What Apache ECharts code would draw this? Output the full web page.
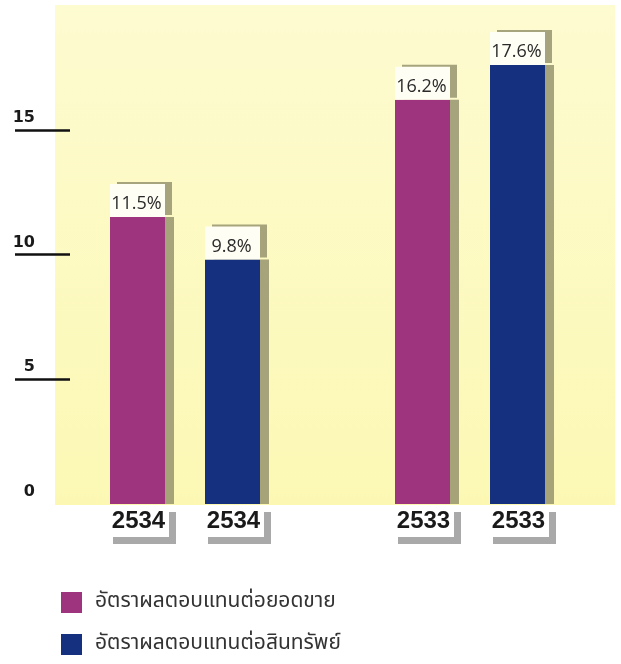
<!DOCTYPE html>
<html>
<head>
<meta charset="utf-8">
<script src="https://cdn.jsdelivr.net/npm/echarts@6/dist/echarts.min.js"></script>
<style>
html,body{margin:0;padding:0;background:#fff;}
#chart{width:621px;height:664px;}
</style>
</head>
<body>
<div id="chart"></div>
<script>
// Data
var years = ['2534', '2533'];
var salesReturn = [11.5, 16.2];   // อัตราผลตอบแทนต่อยอดขาย
var assetReturn = [9.8, 17.6];    // อัตราผลตอบแทนต่อสินทรัพย์
var seriesNames = ['อัตราผลตอบแทนต่อยอดขาย', 'อัตราผลตอบแทนต่อสินทรัพย์'];
var yTicks = [0, 5, 10, 15];

// Build category slots: [year0, year0, gap, year1, year1]
var categories = [years[0], years[0], '', years[1], years[1]];
var salesData = [salesReturn[0], null, null, salesReturn[1], null];
var assetData = [null, assetReturn[0], null, null, assetReturn[1]];

var MAGENTA = '#9E347E';
var NAVY = '#15307F';

var topLabel = {
  show: true,
  position: 'top',
  distance: 0,
  formatter: function (p) { return p.value + '%'; },
  fontFamily: 'Open Sans, DejaVu Sans, sans-serif',
  fontSize: 18,
  color: '#2a2a2a',
  backgroundColor: '#FFFEF4',
  width: 49,
  align: 'center',
  lineHeight: 18,
  padding: [11, 4, 4, 2],
  shadowColor: 'rgba(150,148,110,0.85)',
  shadowOffsetX: 7,
  shadowOffsetY: -2,
  shadowBlur: 0
};

var barShadow = {
  shadowColor: 'rgba(150,148,110,0.85)',
  shadowOffsetX: 9,
  shadowOffsetY: 0,
  shadowBlur: 0
};

var chart = echarts.init(document.getElementById('chart'), null, {renderer: 'canvas'});
chart.setOption({
  animation: false,
  backgroundColor: '#ffffff',
  graphic: [{
    type: 'rect',
    left: 55, top: 5,
    shape: {width: 560, height: 500},
    style: {
      fill: new echarts.graphic.LinearGradient(0, 0, 0, 1, [
        {offset: 0, color: '#FDFBD0'},
        {offset: 1, color: '#FCF8B4'}
      ])
    },
    z: -10,
    silent: true
  }],
  grid: {left: 90, right: 56, top: 5, bottom: 160, containLabel: false},
  legend: {
    orient: 'vertical',
    left: 56, top: 587,
    itemWidth: 21, itemHeight: 21, itemGap: 21,
    icon: 'rect',
    textStyle: {fontFamily: 'Noto Sans Thai, Noto Sans, DejaVu Sans, sans-serif', fontSize: 21, color: '#333', padding: [0, 0, 0, 8]},
    data: seriesNames
  },
  xAxis: {
    type: 'category',
    data: categories,
    axisLine: {show: false},
    axisTick: {show: false},
    axisLabel: {
      interval: function (idx, val) { return val !== ''; },
      margin: 1,
      fontFamily: 'Liberation Sans, Arial, sans-serif',
      fontWeight: 'bold',
      fontSize: 24,
      color: '#1a1a1a',
      backgroundColor: '#ffffff',
      width: 53,
      align: 'center',
      lineHeight: 24,
      padding: [4, 4, 4, 6],
      shadowColor: 'rgba(160,160,160,0.9)',
      shadowOffsetX: 7,
      shadowOffsetY: 7,
      shadowBlur: 0
    }
  },
  yAxis: {
    type: 'value',
    min: 0, max: 20, interval: 5,
    offset: 20,
    axisLine: {show: false},
    splitLine: {show: false},
    axisTick: {
      show: true, length: 55, customValues: [5, 10, 15],
      lineStyle: {color: '#111', width: 2.5}
    },
    axisLabel: {
      customValues: yTicks,
      margin: 35,
      align: 'right',
      verticalAlign: 'bottom',
      padding: [0, 0, 4, 0],
      fontFamily: 'DejaVu Sans, sans-serif',
      fontWeight: 'bold',
      fontSize: 16,
      color: '#1a1a1a'
    }
  },
  series: [{
    name: seriesNames[0],
    type: 'bar',
    data: salesData,
    barWidth: 55,
    barGap: '-100%',
    itemStyle: Object.assign({color: MAGENTA}, barShadow),
    label: topLabel
  }, {
    name: seriesNames[1],
    type: 'bar',
    data: assetData,
    barWidth: 55,
    barGap: '-100%',
    itemStyle: Object.assign({color: NAVY}, barShadow),
    label: topLabel
  }]
});
</script>
</body>
</html>
